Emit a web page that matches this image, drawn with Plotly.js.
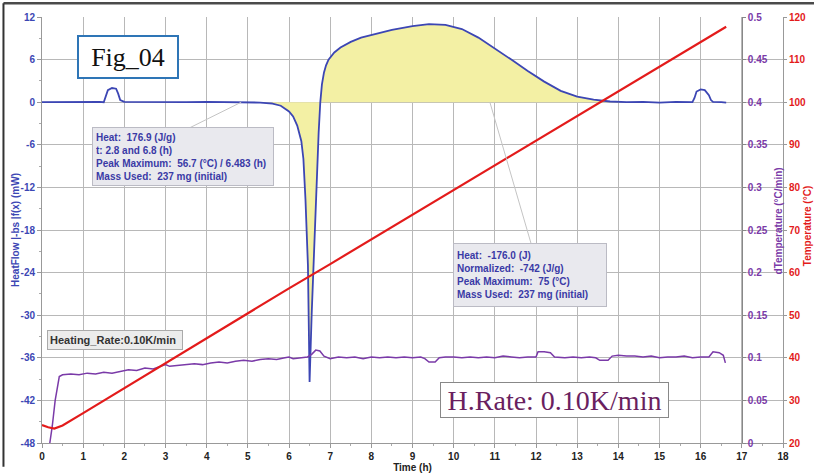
<!DOCTYPE html>
<html><head><meta charset="utf-8">
<script src="https://cdn.plot.ly/plotly-3.0.1.min.js"></script>
<style>html,body{margin:0;padding:0;background:#fff;}#chart{width:814px;height:475px;}</style>
</head><body><div id="chart"></div>
<script>
// Heat flow (mW) vs time (h)
const hfTime = [0,0.5,1.0,1.4,1.5,1.55,1.6,1.7,1.8,1.85,1.9,2.0,2.5,3.0,3.5,4.0,4.5,5.0,5.3,5.6,5.8,6.0,6.1,6.2,6.3,6.35,6.4,6.46,6.48,6.5,6.55,6.6,6.67,6.72,6.76,6.8,6.85,6.9,6.96,7.1,7.25,7.5,7.75,8.0,8.5,9.0,9.4,9.8,10.2,10.6,11.0,11.4,11.8,12.2,12.6,13.0,13.4,13.8,14.2,14.6,15.0,15.4,15.8,15.85,15.9,16.0,16.1,16.2,16.25,16.3,16.5,16.62];
const hfValue = [0,0.05,0,0.05,0,0.8,1.7,2.0,1.9,1.2,0.3,0.05,0,0.05,0,0.05,0,0,-0.05,-0.2,-0.5,-1.3,-2.0,-3.3,-5.5,-8,-13.7,-23,-31,-39.4,-30,-22,-12,-4.3,0,2.5,4.2,5.2,6.0,7.0,7.7,8.5,9.1,9.5,10.2,10.7,11.0,10.9,10.3,9.1,7.6,6.0,4.4,2.9,1.6,0.8,0.35,0.1,0.0,0.05,-0.05,0.05,0.0,0.6,1.5,1.8,1.7,1.0,0.3,0.05,0.0,-0.05];
// Temperature (°C)
const tempTime = [0,0.15,0.3,0.5,1,2,3,4,5,6,7,8,9,10,11,12,13,14,15,16,16.62];
const tempValue = [24.2,23.7,23.4,24.1,27.0,32.9,38.8,44.6,50.5,56.3,62.0,67.8,73.6,79.4,85.2,91.0,96.8,102.6,108.3,114.1,117.7];
// dTemperature (°C/min)
const dtTime = [0.19,0.25,0.32,0.38,0.42,0.5,0.7,0.9,1.1,1.3,1.5,1.7,1.9,2.1,2.3,2.5,2.7,2.9,3.0,3.1,3.3,3.5,3.7,3.9,4.1,4.3,4.5,4.7,4.9,5.1,5.3,5.5,5.7,5.9,6.0,6.1,6.3,6.45,6.55,6.65,6.75,6.85,7.0,7.2,7.4,7.6,7.8,8.0,8.2,8.4,8.6,8.8,9.0,9.2,9.3,9.4,9.55,9.65,9.8,10.0,10.2,10.4,10.6,10.8,11.0,11.2,11.4,11.6,11.8,12.0,12.05,12.2,12.35,12.45,12.7,12.9,13.1,13.3,13.45,13.55,13.75,13.85,14.0,14.2,14.4,14.6,14.8,15.0,15.2,15.4,15.6,15.8,16.0,16.2,16.3,16.45,16.55,16.6];
const dtValue = [0.0,0.02,0.05,0.07,0.078,0.080,0.081,0.080,0.082,0.081,0.083,0.082,0.084,0.086,0.085,0.088,0.087,0.090,0.092,0.090,0.091,0.092,0.093,0.092,0.094,0.095,0.094,0.096,0.097,0.096,0.098,0.099,0.098,0.100,0.101,0.099,0.100,0.101,0.104,0.109,0.108,0.102,0.099,0.101,0.100,0.101,0.099,0.101,0.100,0.101,0.100,0.101,0.100,0.101,0.099,0.095,0.095,0.100,0.101,0.101,0.100,0.101,0.100,0.101,0.100,0.102,0.101,0.100,0.101,0.101,0.107,0.107,0.106,0.101,0.100,0.101,0.100,0.101,0.100,0.097,0.097,0.102,0.103,0.102,0.102,0.101,0.102,0.100,0.101,0.101,0.102,0.100,0.101,0.101,0.107,0.106,0.103,0.094];
// tick labels
const hfTicks = [-48,-42,-36,-30,-24,-18,-12,-6,0,6,12];
const hfTickText = ['-48','-42','-36','-30','-24','-18','-12','-6','0','6','12'];
// integration window for the shaded peak area
const fillStart = 5.6, fillEnd = 14.2;

const fillT = [], fillV = [];
hfTime.forEach((t,i)=>{ if(t>=fillStart && t<=fillEnd){ fillT.push(t); fillV.push(hfValue[i]); } });

const BLUE='#3c46b4', PURPLE='#7a3aa8', RED='#e31b1b', GRID='#b8b8b8';
const F='"Liberation Sans", Arial, sans-serif';
const SERIF='"Liberation Serif", "Times New Roman", serif';

const traces = [
  {x:fillT, y:fillV, type:'scatter', mode:'lines', line:{width:0, color:'rgba(0,0,0,0)'}, fill:'tozeroy', fillcolor:'#f3f0a4', hoverinfo:'skip', showlegend:false},
  {x:tempTime, y:tempValue, yaxis:'y3', type:'scatter', mode:'lines', line:{color:RED, width:2.2}, showlegend:false},
  {x:dtTime, y:dtValue, yaxis:'y2', type:'scatter', mode:'lines', line:{color:PURPLE, width:1.5}, showlegend:false},
  {x:hfTime, y:hfValue, type:'scatter', mode:'lines', line:{color:BLUE, width:1.8}, showlegend:false}
];

const boxFont = {family:F, size:10, color:'#3a3aa6', weight:'bold'};
const layout = {
  width:814, height:475, autosize:false,
  margin:{l:42, r:31, t:17, b:32, pad:0},
  paper_bgcolor:'#ffffff', plot_bgcolor:'#ffffff',
  showlegend:false,
  xaxis:{range:[0,18], dtick:1, showgrid:true, gridcolor:GRID, gridwidth:1, zeroline:false,
    showline:true, linecolor:'#999', ticks:'outside', ticklen:4, tickcolor:'#999',
    minor:{ticks:'outside', ticklen:2, tickcolor:'#aaa', dtick:0.5, showgrid:false},
    tickfont:{family:F, size:10, color:'#222', weight:'bold'},
    title:{text:'Time (h)', font:{family:F, size:10, color:'#222', weight:'bold'}, standoff:2}, automargin:false},
  yaxis:{range:[-48,12], tickmode:'array', tickvals:hfTicks, ticktext:hfTickText, showgrid:true, gridcolor:GRID, gridwidth:1, zeroline:false,
    showline:true, linecolor:'#999', ticks:'outside', ticklen:4, tickcolor:'#999',
    minor:{ticks:'outside', ticklen:2, tickcolor:'#aaa', dtick:3, showgrid:false},
    tickfont:{family:F, size:10, color:BLUE, weight:'bold'}, automargin:false},
  yaxis2:{range:[0,0.5], dtick:0.05, overlaying:'y', side:'right', anchor:'free', position:17/18,
    showgrid:false, zeroline:false, showline:true, linecolor:'#888', ticks:'outside', ticklen:3, tickcolor:'#888',
    tickfont:{family:F, size:10, color:PURPLE, weight:'bold'}, automargin:false},
  yaxis3:{range:[20,120], dtick:10, overlaying:'y', side:'right', anchor:'x',
    showgrid:false, zeroline:false, showline:true, linecolor:'#999', ticks:'outside', ticklen:3, tickcolor:'#999',
    tickfont:{family:F, size:10, color:RED, weight:'bold'}, automargin:false},
  shapes:[
    {type:'line', xref:'x', yref:'y', x0:3.52, y0:-3.8, x1:4.84, y1:0, line:{color:'#c4c4c4', width:1}},
    {type:'line', xref:'x', yref:'y', x0:10.88, y0:0, x1:11.88, y1:-19.9, line:{color:'#c4c4c4', width:1}},
    {type:'line', xref:'paper', yref:'paper', x0:-0.052, x1:1.05, y0:1.032, y1:1.032, line:{color:'#4a4a4a', width:2.5}, layer:'above'},
    {type:'line', xref:'paper', yref:'paper', x0:-0.052, x1:-0.052, y0:1.032, y1:-0.056, line:{color:'#333', width:2}, layer:'above'}
  ],
  annotations:[
    {xref:'paper', yref:'paper', x:-0.0365, y:0.5, xanchor:'center', yanchor:'middle', textangle:-90, showarrow:false,
     font:{family:F, size:10, color:BLUE, weight:'bold'}, text:'HeatFlow |-bs |f(x) (mW)'},
    {xref:'paper', yref:'paper', x:(778-42)/741, y:0.52, xanchor:'center', yanchor:'middle', textangle:-90, showarrow:false,
     font:{family:F, size:10, color:PURPLE, weight:'bold'}, text:'dTemperature (°C/min)'},
    {xref:'paper', yref:'paper', x:(807.5-42)/741, y:0.51, xanchor:'center', yanchor:'middle', textangle:-90, showarrow:false,
     font:{family:F, size:10, color:RED, weight:'bold'}, text:'Temperature (°C)'},
    {xref:'x', yref:'y', x:1.215, y:-3.52, xanchor:'left', yanchor:'top', showarrow:false, align:'left',
     width:174, height:51, bgcolor:'#e9e9ee', bordercolor:'#bbbbc4', borderwidth:1, borderpad:3, font:boxFont,
     text:'Heat:&nbsp; 176.9 (J/g)<br>t: 2.8 and 6.8 (h)<br>Peak Maximum:&nbsp; 56.7 (°C) / 6.483 (h)<br>Mass Used:&nbsp; 237 mg (initial)'},
    {xref:'x', yref:'y', x:9.98, y:-19.86, xanchor:'left', yanchor:'top', showarrow:false, align:'left',
     width:146, height:56, bgcolor:'#e9e9ee', bordercolor:'#bbbbc4', borderwidth:1, borderpad:3, font:boxFont,
     text:'Heat:&nbsp; -176.0 (J)<br>Normalized:&nbsp; -742 (J/g)<br>Peak Maximum:&nbsp; 75 (°C)<br>Mass Used:&nbsp; 237 mg (initial)'},
    {xref:'x', yref:'y', x:0.12, y:-32.1, xanchor:'left', yanchor:'top', showarrow:false, align:'left',
     width:130, height:14, bgcolor:'#ececec', bordercolor:'#aaaaaa', borderwidth:1, borderpad:2,
     font:{family:F, size:11, color:'#333', weight:'bold'}, text:'Heating_Rate:0.10K/min'},
    {xref:'x', yref:'y', x:0.85, y:9.5, xanchor:'left', yanchor:'top', showarrow:false,
     width:96, height:38, bgcolor:'#ffffff', bordercolor:'#2e75b6', borderwidth:2, borderpad:1,
     font:{family:SERIF, size:26, color:'#111'}, text:'Fig_04'},
    {xref:'x', yref:'y', x:9.67, y:-39.4, xanchor:'left', yanchor:'top', showarrow:false,
     width:225, height:32, bgcolor:'#ffffff', bordercolor:'#888888', borderwidth:1, borderpad:1,
     font:{family:SERIF, size:28, color:'#6a1f5f'}, text:'H.Rate: 0.10K/min'}
  ]
};
Plotly.newPlot('chart', traces, layout, {displayModeBar:false, staticPlot:true});
</script></body></html>
